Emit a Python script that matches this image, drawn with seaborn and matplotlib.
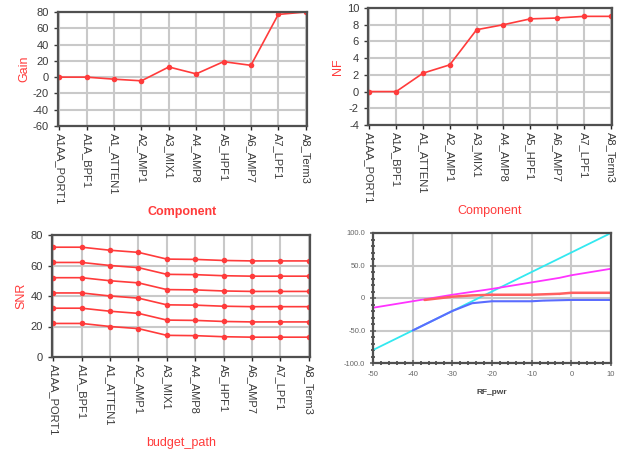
import matplotlib
matplotlib.use("Agg")
import matplotlib.pyplot as plt
import seaborn as sns
import pandas as pd
from matplotlib.ticker import MultipleLocator

sns.set_theme(style="white")
plt.rcParams['font.family'] = ['Liberation Sans', 'DejaVu Sans']
plt.rcParams['axes.unicode_minus'] = False

components = ["A1AA_PORT1", "A1A_BPF1", "A1_ATTEN1", "A2_AMP1", "A3_MIX1",
              "A4_AMP8", "A5_HPF1", "A6_AMP7", "A7_LPF1", "A8_Term3"]
gain = [0, 0, -2.5, -4.5, 12.5, 4, 19, 14.5, 77, 80]
nf = [0, 0, 2.2, 3.2, 7.4, 8.0, 8.7, 8.8, 9.0, 9.0]
snr_top = [72, 72, 70, 68.6, 64.2, 64, 63.3, 63, 63, 63]
snr_offsets = [0, -10, -20, -30, -40, -50]

rf_x = [-50, -40, -30, -20, -10, 0, 10]
cyan_y = [-80, -50, -20, 10, 40, 70, 100]
mag_x = [-50, -40, -30, -20, -10, -3, 0, 10]
mag_y = [-15, -5, 5, 14, 24, 31, 35, 45]
red_x = [-37, -30, -25, -20, -10, -3, -3, 0, 10]
red_y = [-3, 2, 4, 5, 5, 5, 8, 8, 8]
blue_x = [-40, -35, -30, -25, -20, -10, -7, -7, 0, 10]
blue_y = [-50, -35, -20, -8, -5, -5, -5, -3, -3, -3]

RED = "#ff3b3b"
GRID = "#c9c9c9"
SPINE = "#505050"

W, H = 618, 463
fig = plt.figure(figsize=(W / 100, H / 100), dpi=100)


def ax_px(l, t, r, b):
    return fig.add_axes([l / W, 1 - b / H, (r - l) / W, (b - t) / H])


def style_cat(ax, ylabel, xlabel, ylim, ystep, bold=False):
    ax.set_ylim(*ylim)
    ax.yaxis.set_major_locator(MultipleLocator(ystep))
    ax.set_xlim(-0.05, len(components) - 1 + 0.05)
    ax.set_xticks(range(len(components)))
    ax.set_xticklabels(components, rotation=270, fontsize=8, color="#3a3a3a")
    ax.tick_params(axis="y", labelsize=8, colors="#3a3a3a", length=3, width=1, direction="out", left=True)
    ax.tick_params(axis="x", length=3, width=1, direction="out", bottom=True, pad=2)
    ax.grid(True, color=GRID, linewidth=1.5)
    for s in ax.spines.values():
        s.set_color(SPINE)
        s.set_linewidth(1.6)
    ax.set_ylabel(ylabel, color=RED, fontsize=9, labelpad=2)
    ax.set_xlabel(xlabel, color=RED, fontsize=9, labelpad=1,
                  fontweight="bold" if bold else "normal")


# Panel 1: Gain
ax1 = ax_px(58, 12, 307, 126)
df1 = pd.DataFrame({"Component": components, "Gain": gain, "pos": range(10)})
sns.lineplot(data=df1, x="pos", y="Gain", ax=ax1, color=RED, marker="o",
             markersize=4, markeredgewidth=0, linewidth=1.2, sort=False)
style_cat(ax1, "Gain", "Component", (-60, 80), 20, bold=True)

# Panel 2: NF
ax2 = ax_px(368, 8, 612, 125)
df2 = pd.DataFrame({"Component": components, "NF": nf, "pos": range(10)})
sns.lineplot(data=df2, x="pos", y="NF", ax=ax2, color=RED, marker="o",
             markersize=4, markeredgewidth=0, linewidth=1.2, sort=False)
style_cat(ax2, "NF", "Component", (-4, 10), 2)

# Panel 3: SNR
ax3 = ax_px(52, 235, 310, 357)
rows = []
for k, off in enumerate(snr_offsets):
    for i, c in enumerate(components):
        rows.append({"pos": i, "SNR": snr_top[i] + off, "series": k})
df3 = pd.DataFrame(rows)
sns.lineplot(data=df3, x="pos", y="SNR", hue="series", palette=[RED] * 6,
             ax=ax3, marker="o", markersize=4, markeredgewidth=0,
             linewidth=1.2, sort=False, legend=False)
style_cat(ax3, "SNR", "budget_path", (0, 80), 20)

# Panel 4: RF_pwr sweep
ax4 = ax_px(373, 233, 611, 363)
sns.lineplot(x=rf_x, y=cyan_y, ax=ax4, color="#33e8f0", linewidth=1.3, sort=False)
sns.lineplot(x=mag_x, y=mag_y, ax=ax4, color="#ff33ff", linewidth=1.3, sort=False)
sns.lineplot(x=red_x, y=red_y, ax=ax4, color="#ff6060", linewidth=1.8, sort=False)
sns.lineplot(x=blue_x, y=blue_y, ax=ax4, color="#5a6cff", linewidth=1.5, sort=False)
ax4.set_xlim(-50, 10)
ax4.set_ylim(-100, 100)
ax4.xaxis.set_major_locator(MultipleLocator(10))
ax4.xaxis.set_minor_locator(MultipleLocator(2))
ax4.yaxis.set_major_locator(MultipleLocator(50))
ax4.yaxis.set_minor_locator(MultipleLocator(10))
ax4.set_yticks([-100, -50, 0, 50, 100])
ax4.set_yticklabels(["-100.0", "-50.0", "0", "50.0", "100.0"])
ax4.tick_params(which="major", labelsize=5.5, colors="#666666", length=4, width=1.2,
                direction="inout", left=True, bottom=True)
ax4.tick_params(which="minor", length=3, width=1.2, color="#444444",
                direction="inout", left=True, bottom=True)
ax4.grid(True, which="major", color=GRID, linewidth=1.5)
for s in ax4.spines.values():
    s.set_color(SPINE)
    s.set_linewidth(1.6)
ax4.set_xlabel("RF_pwr", fontsize=6, color="#444444", fontweight="bold", labelpad=8)
ax4.set_ylabel("")

fig.savefig("out.png", dpi=100)
